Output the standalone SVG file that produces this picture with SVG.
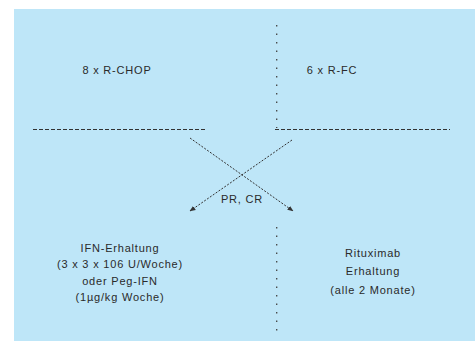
<svg xmlns="http://www.w3.org/2000/svg" width="475" height="341" viewBox="0 0 475 341">
<defs>
<style>
.t{font-family:"Liberation Sans",Arial,sans-serif;font-size:11px;fill:#2a2a2a;text-anchor:middle;letter-spacing:0.8px}
.dash{stroke:#333;stroke-width:1.2;fill:none;stroke-dasharray:4 2}
.dot{stroke:#444;stroke-width:1.3;fill:none;stroke-dasharray:1.5 7}
.arr{stroke:#333;stroke-width:1;fill:none;stroke-dasharray:2 1.5}
</style>
<marker id="ah" viewBox="0 0 10 10" refX="9" refY="5" markerWidth="6" markerHeight="6" orient="auto">
<path d="M0,1 L10,5 L0,9 Z" fill="#333"/>
</marker>
</defs>
<rect x="14" y="9" width="461" height="332" fill="#bee6f8"/>
<g id="connectors">
<line class="dash" x1="33" y1="129.5" x2="207" y2="129.5"/>
<line class="dash" x1="275" y1="129.5" x2="450" y2="129.5"/>
<line class="dot" x1="276.7" y1="25" x2="276.7" y2="128"/>
<line class="dot" x1="276.7" y1="227" x2="276.7" y2="333"/>
<line class="arr" x1="190" y1="138" x2="293" y2="211" marker-end="url(#ah)"/>
<line class="arr" x1="292" y1="140" x2="190" y2="211" marker-end="url(#ah)"/>
<text class="t" x="242" y="203">PR, CR</text>
</g>
<g id="rchop"><text class="t" x="117" y="74">8 x R-CHOP</text></g>
<g id="rfc"><text class="t" x="332" y="74">6 x R-FC</text></g>
<g id="ifn">
<text class="t" x="120" y="252">IFN-Erhaltung</text>
<text class="t" x="120" y="268">(3 x 3 x 106 U/Woche)</text>
<text class="t" x="120" y="285">oder Peg-IFN</text>
<text class="t" x="120" y="301">(1µg/kg Woche)</text>
</g>
<g id="rituximab">
<text class="t" x="373" y="257">Rituximab</text>
<text class="t" x="373" y="275">Erhaltung</text>
<text class="t" x="373" y="294">(alle 2 Monate)</text>
</g>
</svg>
